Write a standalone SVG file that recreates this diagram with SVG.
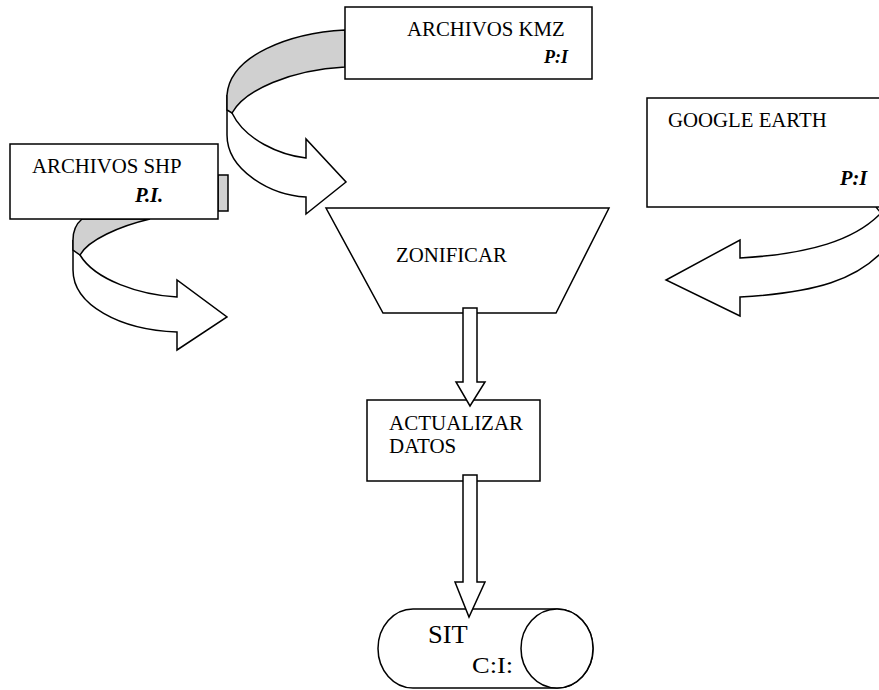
<svg xmlns="http://www.w3.org/2000/svg" width="879" height="690" viewBox="0 0 879 690">
<style>
.s{fill:#fff;stroke:#000;stroke-width:1.5;stroke-linejoin:miter}
.g{fill:#d0d0d0;stroke:#000;stroke-width:1.5}
.t{font-family:"Liberation Serif","Times New Roman",serif;font-size:20px;fill:#000}
.b{font-weight:bold;font-style:italic}
</style>
<rect width="879" height="690" fill="#fff"/>
<g id="connectors">
<g id="arrow-kmz">
<path class="s" d="M232 113 C245 140 280 155 306 158 L306 139 L346 182 L306 214 L306 197 C270 195 227 170 227 135 L227 95 Z"/>
<path class="g" d="M345 30 C290 33 230 55 227 95 L227 110 L232 113 C245 90 290 70 345 67 Z"/>
</g>
<g id="arrow-shp">
<path class="s" d="M80 255 C95 280 140 295 177 297 L177 280 L227 317 L177 350 L177 332 C120 330 73 305 73 270 L73 240 Z"/>
<path class="g" d="M82 219 C76 224 73 232 73 240 L73 250 L80 255 C88 240 120 226 150 219 Z"/>
</g>
<g id="arrow-google">
<path class="s" d="M881 213 C855 240 810 254 740 258 L740 240 L666 280 L740 316 L740 297 C810 293 862 282 892 240 Z"/>
<path fill="none" stroke="#000" stroke-width="1.5" d="M876 207 L881 213"/>
</g>
</g>
<g id="kmz">
<rect class="s" x="345" y="7" width="247" height="72"/>
<text class="t" transform="matrix(1.04 0 0 1 407 36)">ARCHIVOS KMZ</text>
<text class="t b" style="font-size:18px" transform="matrix(1 0 0 1 544 63)">P:I</text>
</g>
<g id="shp">
<rect class="g" x="218" y="175" width="10" height="36"/>
<rect class="s" x="10" y="144" width="208" height="75"/>
<text class="t" transform="matrix(1.04 0 0 1 32 173)">ARCHIVOS SHP</text>
<text class="t b" transform="matrix(1.03 0 0 1 135 202)">P.I.</text>
</g>
<g id="google">
<rect class="s" x="647" y="98" width="240" height="109"/>
<text class="t" transform="matrix(1.04 0 0 1 668 127)">GOOGLE EARTH</text>
<text class="t b" transform="matrix(1.02 0 0 1 840 185)">P:I</text>
</g>
<g id="zonificar">
<path class="s" d="M326 208 L609 208 L556 313 L383 313 Z"/>
<text class="t" transform="matrix(1.04 0 0 1 396 262)">ZONIFICAR</text>
</g>
<g id="actualizar">
<rect class="s" x="367" y="400" width="173" height="81"/>
<text class="t" transform="matrix(1.05 0 0 1 389 430)">ACTUALIZAR</text>
<text class="t" transform="matrix(1.05 0 0 1 389 453)">DATOS</text>
</g>
<g id="sit">
<path class="s" d="M413 609 L557 609 A36 39.5 0 0 1 557 688 L413 688 A35 39.5 0 0 1 413 609 Z"/>
<ellipse class="s" cx="557" cy="648.5" rx="36" ry="39.5"/>
<text class="t" style="font-size:25px" transform="matrix(1.06 0 0 1 428 643)">SIT</text>
<text class="t" style="font-size:23px" transform="matrix(1.15 0 0 1 472 673)">C:I:</text>
</g>
<g id="flow-arrows">
<path class="s" d="M463 308 L477 308 L477 382 L485 382 L470 406 L456 382 L463 382 Z"/>
<path class="s" d="M463 475 L477 475 L477 582 L485 582 L469 617 L455 582 L463 582 Z"/>
</g>
</svg>
